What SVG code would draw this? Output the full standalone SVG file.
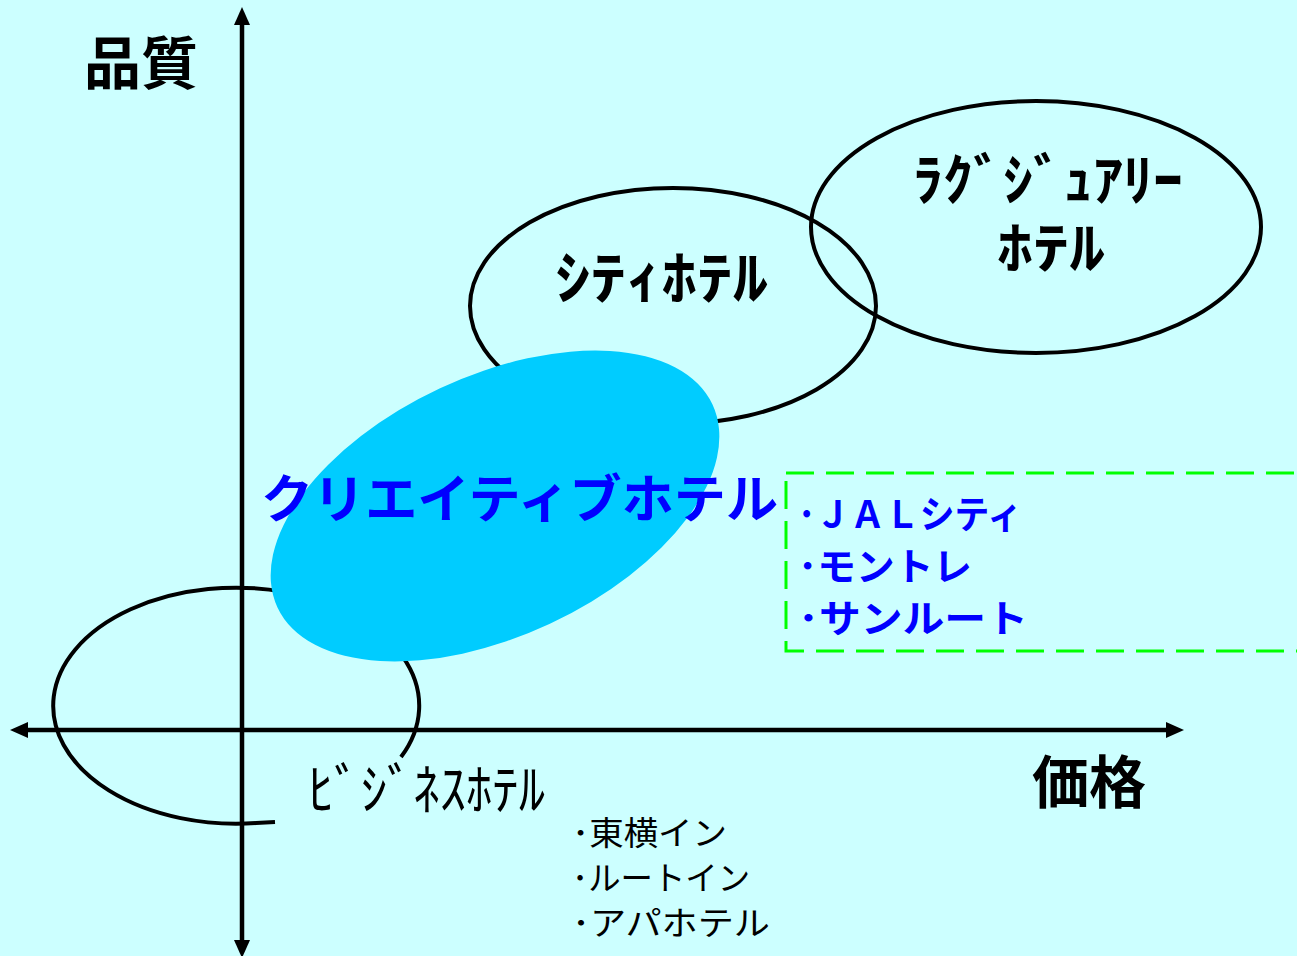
<svg xmlns="http://www.w3.org/2000/svg" width="1297" height="956" viewBox="0 0 1297 956">
<style>
.bg{fill:#CCFFFF}
.ring{fill:none;stroke:#000;stroke-width:4}
.axis{stroke:#000;stroke-width:4.5;fill:none}
.head{fill:#000}
.jp{font-family:"Noto Sans CJK JP","Noto Sans CJK SC",sans-serif}
.lbl{font-weight:bold;fill:#000}
.blue{font-weight:bold;fill:#0000FF}
.small{font-weight:normal;fill:#000;font-size:33px}
</style>
<rect class="bg" x="0" y="0" width="1297" height="956"/>
<g id="city-hotel"><ellipse class="ring" cx="673" cy="306" rx="203" ry="118"/></g>
<g id="luxury-hotel"><ellipse class="ring" cx="1036" cy="227" rx="225" ry="126"/></g>
<g id="business-hotel">
<path class="ring" d="M 401 757 A 183 118 0 1 0 256 823 L 275 822"/>
</g>
<g id="creative-hotel"><ellipse cx="495" cy="506" rx="240" ry="130" fill="#00CCFF" transform="rotate(-25 495 506)"/></g>
<g id="connectors">
<line class="axis" x1="242" y1="944" x2="242" y2="22"/>
<polygon class="head" points="242,7 234,25 250,25"/>
<polygon class="head" points="242,958 234,940 250,940"/>
<line class="axis" x1="25" y1="730" x2="1170" y2="730"/>
<polygon class="head" points="10,730 28,722 28,738"/>
<polygon class="head" points="1184,730 1166,722 1166,738"/>
</g>
<g id="compare-box"><rect x="786" y="473" width="540" height="178" fill="none" stroke="#00FF00" stroke-width="3" stroke-dasharray="28 12"/></g>
<g id="labels">
<text class="jp lbl" x="84" y="84" font-size="57">品質</text>
<text class="jp lbl" x="1032" y="803" font-size="57">価格</text>
<text class="jp lbl" x="555" y="299" font-size="58" textLength="213" lengthAdjust="spacingAndGlyphs">ｼﾃｨﾎﾃﾙ</text>
<text class="jp lbl" x="913" y="200" font-size="56" textLength="270" lengthAdjust="spacingAndGlyphs">ﾗｸﾞｼﾞｭｱﾘｰ</text>
<text class="jp lbl" x="997" y="268" font-size="56" textLength="108" lengthAdjust="spacingAndGlyphs">ﾎﾃﾙ</text>
<text class="jp" x="308" y="809" font-size="55" textLength="237" lengthAdjust="spacingAndGlyphs" fill="#000">ﾋﾞｼﾞﾈｽﾎﾃﾙ</text>
<text class="jp blue" x="261" y="518" font-size="52" textLength="517" lengthAdjust="spacingAndGlyphs">クリエイティブホテル</text>
<text class="jp blue" x="798" y="528" font-size="38" textLength="224" lengthAdjust="spacingAndGlyphs">･ＪＡＬシティ</text>
<text class="jp blue" x="798" y="580" font-size="38" textLength="174" lengthAdjust="spacingAndGlyphs">･モントレ</text>
<text class="jp blue" x="798" y="632" font-size="38" textLength="230" lengthAdjust="spacingAndGlyphs">･サンルート</text>
<text class="jp small" x="572" y="845" textLength="155" lengthAdjust="spacingAndGlyphs">･東横イン</text>
<text class="jp small" x="572" y="890" textLength="178" lengthAdjust="spacingAndGlyphs">･ルートイン</text>
<text class="jp small" x="572" y="935" textLength="198" lengthAdjust="spacingAndGlyphs">･アパホテル</text>
</g>
</svg>
